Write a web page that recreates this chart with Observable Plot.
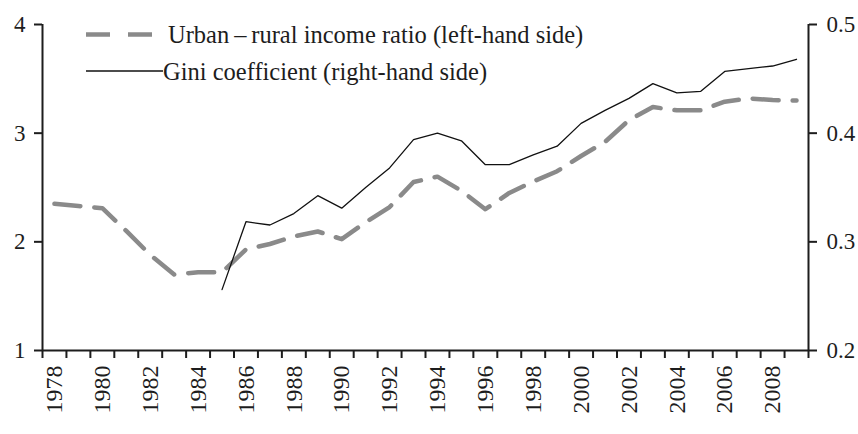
<!DOCTYPE html>
<html><head><meta charset="utf-8">
<script src="https://cdn.jsdelivr.net/npm/d3@7"></script>
<script src="https://cdn.jsdelivr.net/npm/@observablehq/plot@0.6"></script>
<style>
body{margin:0;background:#fff;}
#wrap{position:relative;width:858px;height:434px;font-family:'Liberation Serif','DejaVu Serif','Times New Roman',serif;color:#1d1d1d;}
#legend{position:absolute;left:0;top:0;}
</style></head><body>
<div id="wrap"></div>
<script>
const years = [1978,1979,1980,1981,1982,1983,1984,1985,1986,1987,1988,1989,1990,1991,1992,1993,1994,1995,1996,1997,1998,1999,2000,2001,2002,2003,2004,2005,2006,2007,2008,2009];
const ratio = [2.35,2.33,2.31,2.10,1.88,1.70,1.72,1.72,1.93,1.98,2.05,2.095,2.025,2.18,2.32,2.55,2.60,2.47,2.30,2.45,2.555,2.65,2.79,2.92,3.12,3.24,3.21,3.21,3.29,3.32,3.305,3.30];
const giniYears = [1985,1986,1987,1988,1989,1990,1991,1992,1993,1994,1995,1996,1997,1998,1999,2000,2001,2002,2003,2004,2005,2006,2007,2008,2009];
const gini = [0.256,0.3185,0.3155,0.326,0.3425,0.331,0.350,0.368,0.394,0.400,0.393,0.371,0.371,0.380,0.388,0.409,0.421,0.432,0.4456,0.437,0.4385,0.4568,0.4594,0.4618,0.468];
const leftTicks = [1,2,3,4];
const rightTicks = [0.2,0.3,0.4,0.5];
const labelYears = [1978,1980,1982,1984,1986,1988,1990,1992,1994,1996,1998,2000,2002,2004,2006,2008];
const legendLabels = ["Urban\u2009\u2013\u2009rural income ratio (left-hand side)", "Gini coefficient (right-hand side)"];

const FONT = "'Liberation Serif','DejaVu Serif','Times New Roman',serif";
// map Gini (0.2–0.5) onto the left scale (1–4)
const toLeft = g => 1 + (g - 0.2) / 0.1;
const boundaries = d3.range(years[0] - 0.5, years[years.length - 1] + 1, 1);
const ratioData = years.map((y, i) => ({year: y, v: ratio[i]}));
const giniData = giniYears.map((y, i) => ({year: y, v: toLeft(gini[i])}));

const chart = Plot.plot({
  width: 858, height: 434,
  marginLeft: 42, marginRight: 50, marginTop: 24, marginBottom: 84,
  x: {domain: [years[0] - 0.5, years[years.length - 1] + 0.5]},
  y: {domain: [1, 4]},
  style: {fontFamily: FONT, fontSize: "23px", color: "#1d1d1d", background: "transparent"},
  marks: [
    Plot.axisY({anchor: "left", ticks: leftTicks, tickSize: 8, tickPadding: 9, strokeWidth: 2, tickFormat: d => String(d), label: null}),
    Plot.axisY({anchor: "right", ticks: rightTicks.map(toLeft), tickSize: 8, tickPadding: 10, strokeWidth: 2, tickFormat: d => ((d - 1) * 0.1 + 0.2).toFixed(1), label: null}),
    Plot.axisX({ticks: boundaries, tickSize: 8, strokeWidth: 2, tickFormat: () => "", label: null}),
    Plot.axisX({ticks: labelYears, tickSize: 0, tickRotate: -90, tickPadding: 15, fontSize: 24, tickFormat: d => String(d), label: null}),
    Plot.ruleX([boundaries[0], boundaries[boundaries.length - 1]], {strokeWidth: 2}),
    Plot.ruleY([1], {strokeWidth: 2}),
    Plot.line(ratioData, {x: "year", y: "v", stroke: "#8a8a8a", strokeWidth: 4.5, strokeDasharray: "26,14"}),
    Plot.line(giniData, {x: "year", y: "v", stroke: "#111", strokeWidth: 1.3})
  ]
});
const wrap = document.getElementById("wrap");
wrap.appendChild(chart);

const ns = "http://www.w3.org/2000/svg";
const leg = document.createElementNS(ns, "svg");
leg.setAttribute("id", "legend");
leg.setAttribute("width", 858);
leg.setAttribute("height", 100);
leg.innerHTML = `
  <line x1="86" x2="156" y1="34.5" y2="34.5" stroke="#8a8a8a" stroke-width="4.5" stroke-dasharray="24,18"/>
  <text x="168" y="42.5" font-size="24.5" fill="#1d1d1d" font-family="${FONT.replace(/'/g, "")}">${legendLabels[0]}</text>
  <line x1="86" x2="163" y1="71" y2="71" stroke="#111" stroke-width="1.3"/>
  <text x="163" y="80" font-size="24.5" fill="#1d1d1d" font-family="${FONT.replace(/'/g, "")}">${legendLabels[1]}</text>`;
wrap.appendChild(leg);
</script>
</body></html>
